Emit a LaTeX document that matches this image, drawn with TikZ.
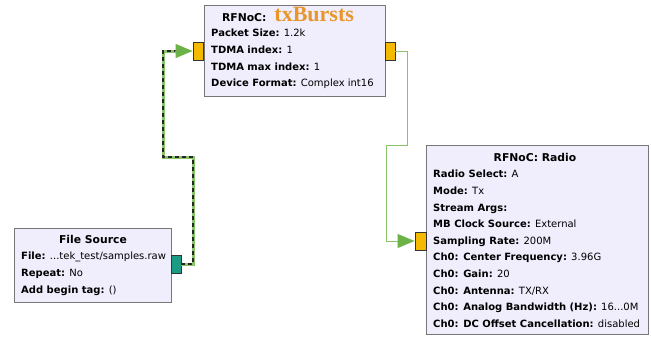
\documentclass[tikz,border=0pt]{standalone}
\usepackage{fontspec}
\setmainfont{DejaVu Sans}
\newfontfamily\titleserif{Liberation Serif}
\usetikzlibrary{arrows.meta,positioning}
\definecolor{blockfill}{HTML}{F0EEFC}
\definecolor{blockline}{HTML}{767676}
\definecolor{portorange}{HTML}{F5BA00}
\definecolor{portteal}{HTML}{1B9B84}
\definecolor{wiregreen}{HTML}{88C26A}
\definecolor{tipgreen}{HTML}{6DB249}
\definecolor{burstorange}{HTML}{E8952C}

\begin{document}
\begin{tikzpicture}[x=1pt,y=-1pt,
  block/.style={draw=blockline,fill=blockfill,line width=0.9pt,anchor=north west,inner sep=0pt},
  blocktitle/.style={inner sep=0pt,font=\fontsize{10.8}{16.6}\selectfont\bfseries},
  blockbody/.style={inner sep=0pt,anchor=north west,align=left,font=\fontsize{10}{16.6}\selectfont},
  port/.style={draw=black!80,line width=0.9pt,minimum width=10pt,minimum height=18pt,inner sep=0pt},
  wire/.style={draw=wiregreen,line width=1pt},
  tip/.style={-{Triangle[length=17pt,width=14pt,color=tipgreen,fill=tipgreen]}}]

\useasboundingbox (0,0) rectangle (651,338);

%%%%%%%%%%%%%%%%%%%%%%%%%%%%%%%%%%%%%%

\node[block,minimum width=181pt,minimum height=91pt] (bursts) at (204,5) {};
\node[blocktitle,anchor=base] (burststitle) at (288,21) {RFNoC:\hspace{8pt}{\titleserif\fontsize{22}{22}\selectfont\color{burstorange}txBursts}};
\node[blockbody] (burstsbody) at (211,29) {\textbf{Packet Size:} 1.2k\\
  \textbf{TDMA index:} 1\\
  \textbf{TDMA max index:} 1\\
  \textbf{Device Format:} Complex int16};
\node[port,fill=portorange] (burstsin) at (198,51) {};
\node[port,fill=portorange] (burstsout) at (390,51) {};

%%%%%%%%%%%%%%%%%%%%%%%%%%%%%%%%%%%%%%

\node[block,minimum width=157pt,minimum height=74pt] (filesrc) at (14,228) {};
\node[blocktitle] (filesrctitle) at (93,239) {File Source};
\node[blockbody] (filesrcbody) at (21,252) {\textbf{File:} ...tek\_test/samples.raw\\
  \textbf{Repeat:} No\\
  \textbf{Add begin tag:} ()};
\node[port,fill=portteal] (filesrcout) at (176,264) {};

%%%%%%%%%%%%%%%%%%%%%%%%%%%%%%%%%%%%%%

\node[block,minimum width=222pt,minimum height=189pt] (radio) at (426,145) {};
\node[blocktitle] (radiotitle) at (535,157) {RFNoC: Radio};
\node[blockbody] (radiobody) at (433,170) {\textbf{Radio Select:} A\\
  \textbf{Mode:} Tx\\
  \textbf{Stream Args:}\\
  \textbf{MB Clock Source:} External\\
  \textbf{Sampling Rate:} 200M\\
  \textbf{Ch0: Center Frequency:} 3.96G\\
  \textbf{Ch0: Gain:} 20\\
  \textbf{Ch0: Antenna:} TX/RX\\
  \textbf{Ch0: Analog Bandwidth (Hz):} 16...0M\\
  \textbf{Ch0: DC Offset Cancellation:} disabled};
\node[port,fill=portorange,minimum width=11pt] (radioin) at (420.5,241) {};

%%%%%%%%%%%%%%%%%%%%%%%%%%%%%%%%%%%%%%

% file source -> txBursts (selected, dashed)
\draw[wire,line width=3pt] (filesrcout.east) -- (193,264) -- (193,157) -- (163,157) -- (163,51) -- (177,51);
\draw[line width=2pt,dash pattern=on 4pt off 3pt,black!85] (filesrcout.east) -- (193,264) -- (193,157) -- (163,157) -- (163,51) -- (177,51);
\draw[wire,tip] (175,51) -- (burstsin.west);

% txBursts -> radio
\draw[wire,tip] (burstsout.east) -- (407,51) -- (407,145) -- (386,145) -- (386,241) -- (radioin.west);

\end{tikzpicture}
\end{document}
